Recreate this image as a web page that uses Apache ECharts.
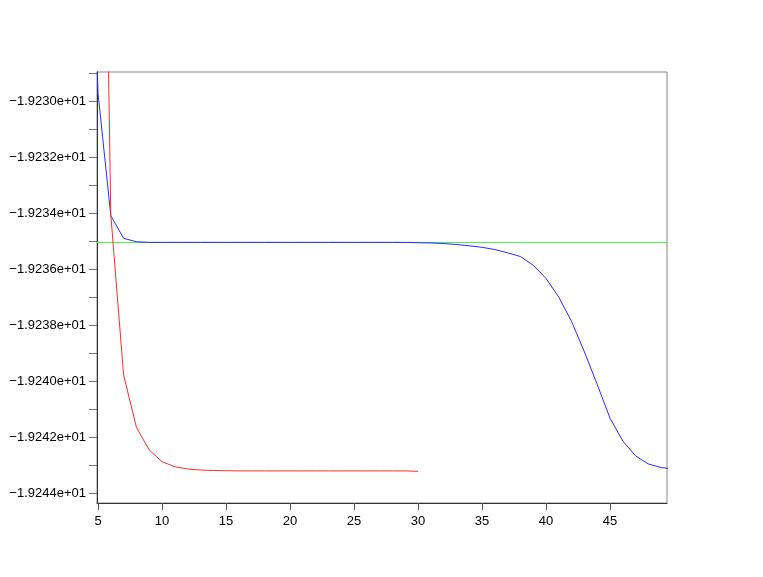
<!DOCTYPE html>
<html>
<head>
<meta charset="utf-8">
<script src="https://cdn.jsdelivr.net/npm/echarts@6/dist/echarts.min.js"></script>
<style>
  html, body { margin: 0; padding: 0; background: #fff; }
  #chart { width: 763px; height: 577px; }
</style>
</head>
<body>
<div id="chart"></div>
<script>
// x positions of the iterations
var blueX = [4, 5, 6, 7, 8, 9, 10, 11, 12, 13, 14, 15, 16, 17, 18, 19, 20, 21, 22, 23, 24, 25, 26, 27, 28, 29, 30,
  31, 32, 33, 34, 35, 36, 37, 38, 39, 40, 41, 42, 43, 44, 45, 46, 47, 48, 49, 50];
var blueY = [-19.215893, -19.229725, -19.234096, -19.234904, -19.235025,
  -19.23505, -19.23505, -19.23505, -19.23505, -19.23505, -19.23505, -19.23505, -19.23505, -19.23505,
  -19.23505, -19.23505, -19.23505, -19.23505, -19.23505, -19.23505, -19.23505, -19.23505, -19.23505,
  -19.23505, -19.23505, -19.23505, -19.235061,
  -19.235071, -19.235089, -19.235125, -19.235171, -19.235225, -19.235304, -19.235421, -19.235554,
  -19.235868, -19.236336, -19.237007, -19.237879, -19.238964, -19.240125, -19.241329, -19.242143,
  -19.242679, -19.242964, -19.243093, -19.243143];

var redX = [5, 6, 7, 8, 9, 10, 11, 12, 13, 14, 15, 16, 17, 18, 19, 20, 21, 22, 23, 24, 25, 26, 27, 28, 29, 30];
var redY = [-19.205286, -19.234071, -19.239786, -19.241654, -19.242464, -19.242882, -19.243061, -19.243143,
  -19.243179, -19.243196, -19.243204, -19.24321, -19.24321, -19.24321, -19.24321, -19.24321, -19.24321,
  -19.24321, -19.24321, -19.24321, -19.24321, -19.24321, -19.24321, -19.24321, -19.24321, -19.243225];

// reference level (green line), drawn across the whole x range
var greenX = [4.92, 49.45];
var greenY = [-19.23505, -19.23505];

// axis range and tick values
var xRange = [4.92, 49.45];
var yRange = [-19.244357, -19.228964];
var xTicks = [5, 10, 15, 20, 25, 30, 35, 40, 45];
var yLabelTicks = [-19.244, -19.242, -19.240, -19.238, -19.236, -19.234, -19.232, -19.230];
var yAllTicks = [-19.244, -19.243, -19.242, -19.241, -19.240, -19.239, -19.238, -19.237, -19.236,
  -19.235, -19.234, -19.233, -19.232, -19.231, -19.230, -19.229];

function pairs(xs, ys) {
  var out = [];
  for (var i = 0; i < xs.length; i++) out.push([xs[i], ys[i]]);
  return out;
}

function sciLabel(v) {
  var s = (v / 10).toFixed(4) + "e+01";
  return s.replace("-", "\u2212");
}

var myChart = echarts.init(document.getElementById("chart"));
var option = {
  animation: false,
  backgroundColor: "#fff",
  textStyle: { fontFamily: "Liberation Sans" },
  grid: {
    left: 97, top: 72, right: 96, bottom: 74,
    outerBoundsMode: "none",
    containLabel: false,
    show: true, borderColor: "#888", borderWidth: 1
  },
  xAxis: {
    type: "value",
    min: xRange[0],
    max: xRange[1],
    axisLine: { show: true, onZero: false, lineStyle: { color: "#333", width: 1 } },
    axisTick: { show: true, length: 7, customValues: xTicks, lineStyle: { color: "#555" } },
    axisLabel: { customValues: xTicks, color: "#000", fontSize: 13, margin: 12 },
    splitLine: { show: false }
  },
  yAxis: {
    type: "value",
    min: yRange[0],
    max: yRange[1],
    axisLine: { show: true, onZero: false, lineStyle: { color: "#333", width: 1 } },
    axisTick: { show: true, length: 8, customValues: yAllTicks, lineStyle: { color: "#777" } },
    axisLabel: {
      customValues: yLabelTicks, color: "#000", fontSize: 13, margin: 11,
      padding: [4, 0, 0, 0],
      formatter: sciLabel
    },
    splitLine: { show: false }
  },
  series: [
    {
      name: "green",
      type: "line",
      data: pairs(greenX, greenY),
      showSymbol: false,
      lineStyle: { color: "#44ee44", width: 1 },
      itemStyle: { color: "#44ee44" },
      z: 2
    },
    {
      name: "blue",
      type: "line",
      data: pairs(blueX, blueY),
      showSymbol: false,
      clip: true,
      lineStyle: { color: "#2a2aff", width: 1 },
      itemStyle: { color: "#2a2aff" },
      z: 3
    },
    {
      name: "red",
      type: "line",
      data: pairs(redX, redY),
      showSymbol: false,
      clip: true,
      lineStyle: { color: "#ff2a2a", width: 1 },
      itemStyle: { color: "#ff2a2a" },
      z: 3
    }
  ]
};
myChart.setOption(option);
</script>
</body>
</html>
